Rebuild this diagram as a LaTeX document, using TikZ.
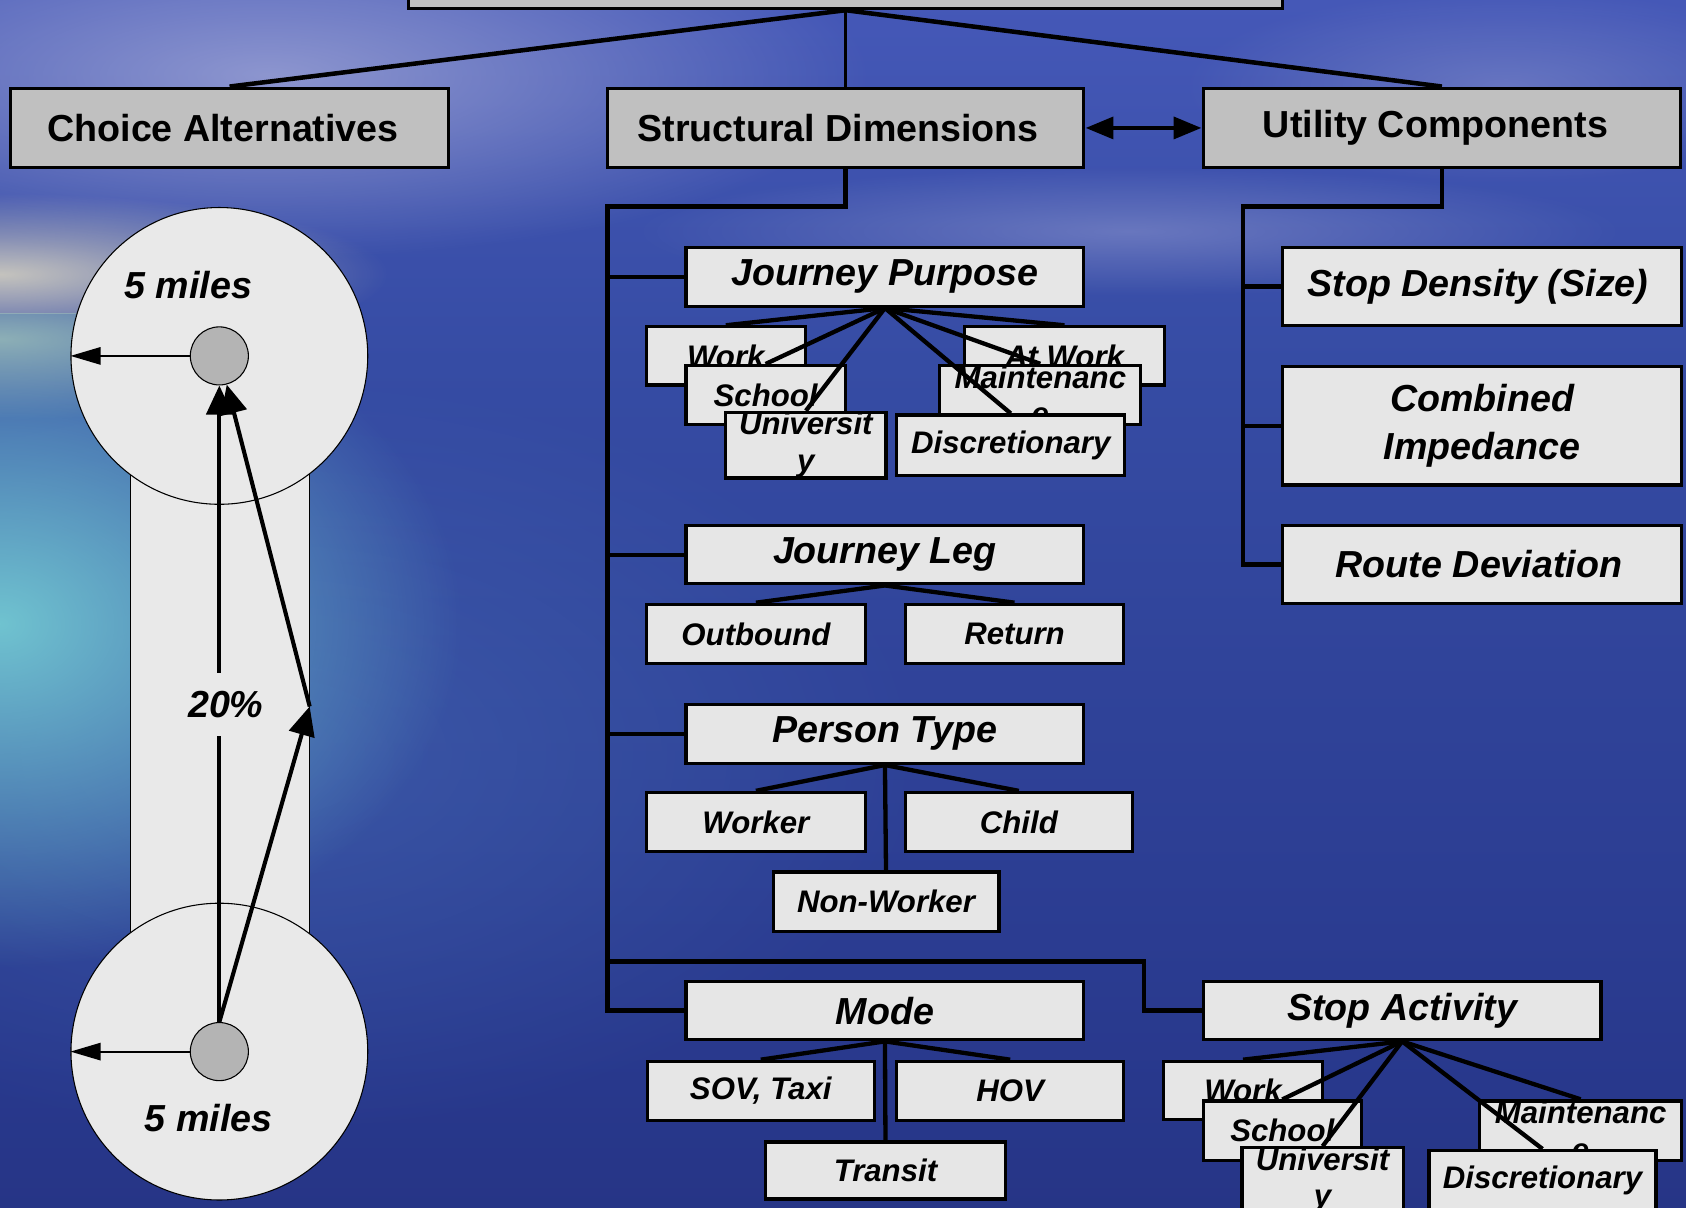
\documentclass[tikz,border=0pt]{standalone}
\usepackage{fontspec}
\setmainfont{Liberation Sans}
\usetikzlibrary{arrows.meta,fadings}

\definecolor{boxgray}{RGB}{192,192,192}
\definecolor{boxlight}{RGB}{230,230,230}
\definecolor{discfill}{RGB}{233,233,233}
\definecolor{hubfill}{RGB}{180,180,180}
\definecolor{bgA}{RGB}{30,38,104}
\definecolor{bgB}{RGB}{40,56,140}
\definecolor{bgC}{RGB}{54,76,164}
\definecolor{bgD}{RGB}{74,92,190}
\definecolor{bgE}{RGB}{78,90,198}
\definecolor{glowBeige}{RGB}{212,208,192}
\definecolor{glowCyan}{RGB}{112,195,208}
\definecolor{glowCloud}{RGB}{160,166,214}
\definecolor{seaLight}{RGB}{74,114,186}
\definecolor{shoreGlow}{RGB}{160,195,185}

\pgfdeclareverticalshading{seabg}{100bp}{color(0bp)=(bgA); color(30bp)=(bgB); color(60bp)=(bgC); color(80bp)=(bgD); color(100bp)=(bgE)}
\tikzfading[name=softglow, inner color=transparent!0, outer color=transparent!100]

% box given by its corners: style, name, x1, y1, x2, y2, text
\newcommand\bx[7]{\node[#1, minimum width={(#5)-(#3)}, minimum height={(#6)-(#4)}] (#2) at ({((#3)+(#5))/2},{((#4)+(#6))/2}) {#7};}

\tikzset{
  topbox/.style={draw, line width=3pt, fill=boxgray, inner sep=0pt,
    font=\bfseries\fontsize{35}{42}\selectfont},
  midbox/.style={draw, line width=3pt, fill=boxlight, inner sep=0pt, align=center,
    font=\bfseries\itshape\fontsize{35}{44}\selectfont},
  subbox/.style={draw, line width=3pt, fill=boxlight, inner sep=0pt, align=center,
    font=\bfseries\itshape\fontsize{29}{34}\selectfont},
  link/.style={line width=4.2pt},
  fan/.style={line width=4pt},
  disc/.style={circle, draw, line width=1pt, fill=discfill, minimum size=276pt, inner sep=0pt},
  hub/.style={circle, draw, line width=1pt, fill=hubfill, minimum size=54pt, inner sep=0pt},
  radius arrow/.style={line width=2pt, -{Triangle[length=28pt,width=16pt]}},
  trip arrow/.style={line width=3.8pt, -{Triangle[length=27pt,width=24pt]}},
  plain label/.style={font=\bfseries\itshape\fontsize{35}{42}\selectfont, inner sep=0pt},
}

\begin{document}
\begin{tikzpicture}[x=1pt,y=-1pt]
\useasboundingbox (0,0) rectangle (1568,1123);
\clip (0,0) rectangle (1568,1123);

% sky and sea
\shade[shading=seabg] (0,0) rectangle (1568,1123);
\begin{scope}
  \clip (0,0) rectangle (1568,292);
  \fill[glowCloud, opacity=0.8, path fading=softglow] (250,70) ellipse [x radius=560pt, y radius=170pt];
  \fill[glowBeige, opacity=0.9, path fading=softglow] (0,255) ellipse [x radius=360pt, y radius=75pt];
  \fill[glowCloud, opacity=0.45, path fading=softglow] (1050,215) ellipse [x radius=460pt, y radius=60pt];
  \fill[glowCloud, opacity=0.4, path fading=softglow] (1400,80) ellipse [x radius=300pt, y radius=90pt];
\end{scope}
\begin{scope}
  \clip (0,292) rectangle (1568,1123);
  \fill[seaLight, opacity=0.45, path fading=softglow] (250,700) ellipse [x radius=620pt, y radius=360pt];
  \fill[glowCyan, path fading=softglow] (0,580) ellipse [x radius=430pt, y radius=320pt];
  \fill[shoreGlow, opacity=0.8, path fading=softglow] (0,315) ellipse [x radius=340pt, y radius=75pt];
\end{scope}

% two catchment discs joined by a corridor
\draw[line width=1pt, fill=discfill] (121,331) rectangle (288,978);
\node[disc] (c1) at (204,331) {};
\node[disc] (c2) at (204,978) {};
\node[hub] (sm1) at (204,331) {};
\node[hub] (sm2) at (204,978) {};
\coordinate (bend) at (288,657);
\draw[radius arrow] (sm1.west) -- (c1.west);
\draw[radius arrow] (sm2.west) -- (c2.west);
\draw[trip arrow] (sm2.north) -- (sm1.south);
\draw[trip arrow] (sm2.north) -- (bend);
\draw[trip arrow] (bend) -- (sm1);
\node[plain label, fill=discfill, inner xsep=3pt, inner ysep=17pt] (pct) at (210,655) {20\%};
\node[plain label] (r1) at (175,265) {5 miles};
\node[plain label] (r2) at (194,1040) {5 miles};

% trunk connectors
\coordinate (sdj) at (565,192);
\coordinate (sab) at (565,894);
\coordinate (sac) at (1064,894);
\coordinate (ucj) at (1156,192);

\bx{topbox}{root}{380}{-60}{1193}{8}{}
\bx{topbox}{ca}{10}{82}{417}{156}{Choice Alternatives\hspace*{12pt}}
\bx{topbox}{sd}{565}{82}{1008}{156}{Structural Dimensions\hspace*{14pt}}
\bx{topbox}{uc}{1119}{82}{1563}{156}{Utility Components\hspace*{12pt}}

\draw[line width=4.2pt] (root.south) -- (ca.north);
\draw[line width=3.2pt] (root.south) -- (sd.north);
\draw[line width=4.2pt] (root.south) -- (uc.north);

\bx{midbox}{jp}{638}{230}{1008}{285}{Journey Purpose}
\bx{midbox}{jl}{638}{489}{1008}{543}{Journey Leg}
\bx{midbox}{pt}{638}{655}{1008}{710}{Person Type}
\bx{midbox}{mo}{638}{913}{1008}{967}{Mode}
\bx{midbox}{sa}{1119}{913}{1489}{967}{Stop Activity}
\bx{midbox}{sdn}{1193}{230}{1564}{303}{Stop Density (Size)\hspace*{8pt}}
\bx{midbox}{ci}{1193}{341}{1564}{451}{Combined\\Impedance}
\bx{midbox}{rd}{1193}{489}{1564}{561}{Route Deviation\hspace*{6pt}}

\draw[link] (sd.south) |- (sdj) |- (mo.west);
\draw[link] (sdj |- jp.west) -- (jp.west);
\draw[link] (sdj |- jl.west) -- (jl.west);
\draw[link] (sdj |- pt.west) -- (pt.west);
\draw[link] (sab) -- (sac) |- (sa.west);
\draw[link] (uc.south) |- (ucj) |- (rd.west);
\draw[link] (ucj |- sdn.west) -- (sdn.west);
\draw[link] (ucj |- ci.west) -- (ci.west);

\draw[line width=4.5pt, {Triangle[length=26pt,width=20pt]}-{Triangle[length=26pt,width=20pt]}] (sd.east) -- (uc.west);

% journey purpose
\bx{subbox}{w1}{601}{304}{749}{358}{Work}
\bx{subbox}{aw1}{897}{304}{1083}{358}{At Work}
\bx{subbox}{s1}{638}{340}{786}{395}{School}
\bx{subbox}{m1}{874}{340}{1061}{395}{Maintenanc\\e}
\bx{subbox}{u1}{675}{386}{824}{442}{Universit\\y}
\bx{subbox}{d1}{834}{386}{1046}{442}{Discretionary}
\foreach \k in {w1,aw1,s1,m1,u1,d1} \draw[fan] (jp.south) -- (\k.north);

% journey leg
\bx{subbox}{ob}{601}{562}{805}{617}{Outbound}
\bx{subbox}{rt}{842}{562}{1045}{617}{Return}
\foreach \k in {ob,rt} \draw[fan] (jl.south) -- (\k.north);

% person type
\bx{subbox}{wk}{601}{737}{805}{792}{Worker}
\bx{subbox}{ch}{842}{737}{1053}{792}{Child}
\bx{subbox}{nw}{719}{811}{929}{866}{Non-Worker}
\foreach \k in {wk,ch,nw} \draw[fan] (pt.south) -- (\k.north);

% mode
\bx{subbox}{sov}{602}{987}{813}{1042}{SOV, Taxi}
\bx{subbox}{hov}{834}{987}{1045}{1042}{HOV}
\bx{subbox}{tr}{712}{1062}{935}{1115}{Transit}
\foreach \k in {sov,hov,tr} \draw[fan] (mo.south) -- (\k.north);

% stop activity
\bx{subbox}{w2}{1082}{987}{1230}{1041}{Work}
\bx{subbox}{s2}{1119}{1024}{1266}{1079}{School}
\bx{subbox}{m2}{1376}{1024}{1564}{1079}{Maintenanc\\e}
\bx{subbox}{u2}{1155}{1070}{1305}{1126}{Universit\\y}
\bx{subbox}{d2}{1329}{1070}{1540}{1126}{Discretionary}
\foreach \k in {w2,s2,u2,m2,d2} \draw[fan] (sa.south) -- (\k.north);
\end{tikzpicture}
\end{document}
